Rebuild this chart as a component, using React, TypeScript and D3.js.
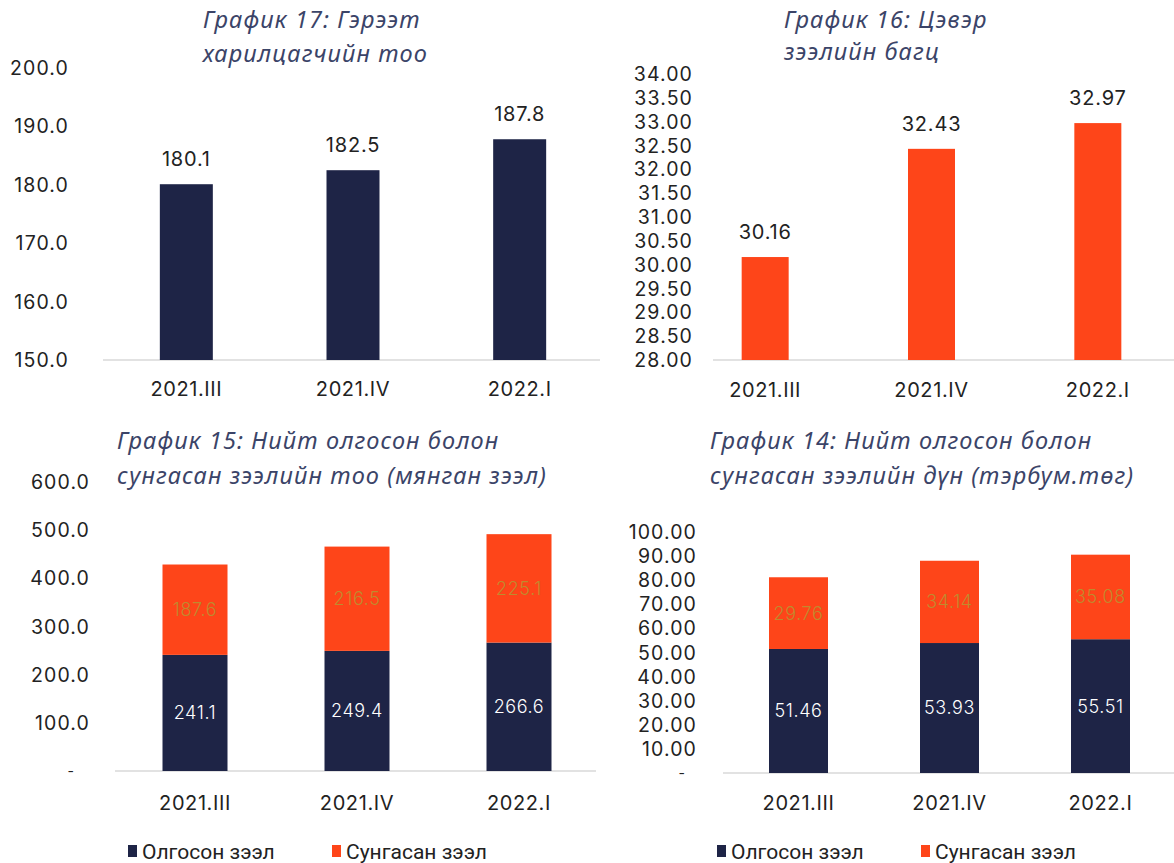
import React from "react";
import * as d3 from "d3";

// Quarters shown on every panel
const quarters = ["2021.III", "2021.IV", "2022.I"];

// График 17: number of contracted customers
const customers = [180.1, 182.5, 187.8];
const customerTicks = [150, 160, 170, 180, 190, 200];

// График 16: net loan portfolio
const netPortfolio = [30.16, 32.43, 32.97];
const portfolioTicks = [28, 28.5, 29, 29.5, 30, 30.5, 31, 31.5, 32, 32.5, 33, 33.5, 34];

// График 15: number of issued / extended loans (thousand)
const issuedCount = [241.1, 249.4, 266.6];
const extendedCount = [187.6, 216.5, 225.1];
const countTicks = [0, 100, 200, 300, 400, 500, 600];

// График 14: amount of issued / extended loans (bn MNT)
const issuedAmount = [51.46, 53.93, 55.51];
const extendedAmount = [29.76, 34.14, 35.08];
const amountTicks = [0, 10, 20, 30, 40, 50, 60, 70, 80, 90, 100];

const legendNames = ["Олгосон зээл", "Сунгасан зээл"];

const NAVY = "#1e2446";
const ORANGE = "#fe4519";
const TITLE = "#3b4468";
const GRID = "#d9d9d9";
const NUM_FONT = "Inter, Lato, 'Noto Sans', sans-serif";
const TITLE_FONT = "'Noto Sans', 'Open Sans', sans-serif";
const LEGEND_FONT = "Roboto, 'Liberation Sans', sans-serif";

type Panel = {
  title: [string, string];
  titleX: number;
  titleY: [number, number];
  yDomain: [number, number];
  yRange: [number, number];
  ticks: number[];
  fmt: (v: number) => string;
  tickX: number;
  dashX: number;
  xRange: [number, number];
  lineX: [number, number];
  barW: number;
  catY: number;
};

function Title({ p }: { p: Panel }) {
  return (
    <g>
      {p.title.map((t, i) => (
        <text
          key={i}
          x={p.titleX}
          y={p.titleY[i]}
          dy="0.35em"
          fontFamily={TITLE_FONT}
          fontStyle="italic"
          fontSize={23.5}
          letterSpacing={1.1}
          fill={TITLE}
        >
          {t}
        </text>
      ))}
    </g>
  );
}

function Frame({ p }: { p: Panel }) {
  const y = d3.scaleLinear().domain(p.yDomain).range(p.yRange);
  const x = d3.scalePoint<string>().domain(quarters).range(p.xRange).padding(0.5);
  return (
    <g>
      <Title p={p} />
      {p.ticks.map((t) => {
        const isZero = t === 0;
        return (
          <text
            key={t}
            x={isZero ? p.dashX : p.tickX}
            y={y(t)}
            dy="0.36em"
            textAnchor="end"
            fontFamily={NUM_FONT}
            fontSize={isZero ? 14 : 19.5}
            letterSpacing={1.1}
            fill="#222"
          >
            {isZero ? "-" : p.fmt(t)}
          </text>
        );
      })}
      <line
        x1={p.lineX[0]}
        x2={p.lineX[1]}
        y1={y(p.yDomain[0])}
        y2={y(p.yDomain[0])}
        stroke={GRID}
        strokeWidth={1.5}
      />
      {quarters.map((q) => (
        <text
          key={q}
          x={x(q)}
          y={p.catY}
          dy="0.36em"
          textAnchor="middle"
          fontFamily={NUM_FONT}
          fontSize={20}
          letterSpacing={0.6}
          fill="#222"
        >
          {q}
        </text>
      ))}
    </g>
  );
}

function SinglePanel({ p, values, color, fmt }: { p: Panel; values: number[]; color: string; fmt: (v: number) => string }) {
  const y = d3.scaleLinear().domain(p.yDomain).range(p.yRange);
  const x = d3.scalePoint<string>().domain(quarters).range(p.xRange).padding(0.5);
  return (
    <g>
      <Frame p={p} />
      {values.map((v, i) => {
        const cx = x(quarters[i])!;
        return (
          <g key={i}>
            <rect x={cx - p.barW / 2} y={y(v)} width={p.barW} height={y(p.yDomain[0]) - y(v)} fill={color} />
            <text
              x={cx}
              y={y(v) - 25}
              dy="0.36em"
              textAnchor="middle"
              fontFamily={NUM_FONT}
              fontSize={20}
              letterSpacing={0.8}
              fill="#222"
            >
              {fmt(v)}
            </text>
          </g>
        );
      })}
    </g>
  );
}

function StackedPanel({ p, lower, upper, fmt }: { p: Panel; lower: number[]; upper: number[]; fmt: (v: number) => string }) {
  const y = d3.scaleLinear().domain(p.yDomain).range(p.yRange);
  const x = d3.scalePoint<string>().domain(quarters).range(p.xRange).padding(0.5);
  const rows = quarters.map((q, i) => ({ q, issued: lower[i], extended: upper[i] }));
  const series = d3.stack<any>().keys(["issued", "extended"])(rows);
  const colors = [NAVY, ORANGE];
  const labelColors = ["#ffffff", "#c08a2e"];
  return (
    <g>
      <Frame p={p} />
      {series.map((s, si) =>
        s.map((d, i) => {
          const cx = x(quarters[i])!;
          const y0 = y(d[0]);
          const y1 = y(d[1]);
          const v = d[1] - d[0];
          return (
            <g key={`${si}-${i}`}>
              <rect x={cx - p.barW / 2} y={y1} width={p.barW} height={y0 - y1} fill={colors[si]} />
              <text
                x={cx}
                y={(y0 + y1) / 2}
                dy="0.36em"
                textAnchor="middle"
                fontFamily={NUM_FONT}
                fontSize={18}
                fontWeight={300}
                letterSpacing={0.6}
                fill={labelColors[si]}
              >
                {fmt(v)}
              </text>
            </g>
          );
        })
      )}
    </g>
  );
}

function Legend({ x }: { x: number }) {
  const items = [
    { name: legendNames[0], color: NAVY, x },
    { name: legendNames[1], color: ORANGE, x: x + 204 },
  ];
  return (
    <g>
      {items.map((it) => (
        <g key={it.name}>
          <rect x={it.x} y={845} width={9} height={12} fill={it.color} />
          <text
            x={it.x + 14}
            y={851}
            dy="0.36em"
            fontFamily={LEGEND_FONT}
            fontSize={21}
            fill="#222"
          >
            {it.name}
          </text>
        </g>
      ))}
    </g>
  );
}

const f1 = (v: number) => d3.format(".1f")(v);
const f2 = (v: number) => d3.format(".2f")(v);

const panel17: Panel = {
  title: ["График 17: Гэрээт", "харилцагчийн тоо"],
  titleX: 203,
  titleY: [20, 54],
  yDomain: [150, 200],
  yRange: [360, 68],
  ticks: customerTicks,
  fmt: f1,
  tickX: 69,
  dashX: 69,
  xRange: [103, 603],
  lineX: [103, 600],
  barW: 53,
  catY: 389,
};

const panel16: Panel = {
  title: ["График 16: Цэвэр", "зээлийн багц"],
  titleX: 784,
  titleY: [20, 52],
  yDomain: [28, 34],
  yRange: [360, 74],
  ticks: portfolioTicks,
  fmt: f2,
  tickX: 693,
  dashX: 693,
  xRange: [682, 1181],
  lineX: [713, 1174],
  barW: 47,
  catY: 390,
};

const panel15: Panel = {
  title: ["График 15: Нийт олгосон болон", "сунгасан зээлийн тоо (мянган зээл)"],
  titleX: 117,
  titleY: [441, 476],
  yDomain: [0, 600],
  yRange: [771, 482],
  ticks: countTicks,
  fmt: f1,
  tickX: 90,
  dashX: 75,
  xRange: [114, 600],
  lineX: [115, 596],
  barW: 65,
  catY: 803,
};

const panel14: Panel = {
  title: ["График 14: Нийт олгосон болон", "сунгасан зээлийн дүн (тэрбум.төг)"],
  titleX: 710,
  titleY: [441, 476],
  yDomain: [0, 100],
  yRange: [773, 532],
  ticks: amountTicks,
  fmt: f2,
  tickX: 697,
  dashX: 686,
  xRange: [723, 1176],
  lineX: [723, 1174],
  barW: 59,
  catY: 803,
};

export default function App() {
  return (
    <svg width={1174} height={863} style={{ position: "absolute", left: 0, top: 0, background: "#fff" }}>
      <rect width={1174} height={863} fill="#fff" />
      <SinglePanel p={panel17} values={customers} color={NAVY} fmt={f1} />
      <SinglePanel p={panel16} values={netPortfolio} color={ORANGE} fmt={f2} />
      <StackedPanel p={panel15} lower={issuedCount} upper={extendedCount} fmt={f1} />
      <StackedPanel p={panel14} lower={issuedAmount} upper={extendedAmount} fmt={f2} />
      <Legend x={128} />
      <Legend x={717} />
    </svg>
  );
}
